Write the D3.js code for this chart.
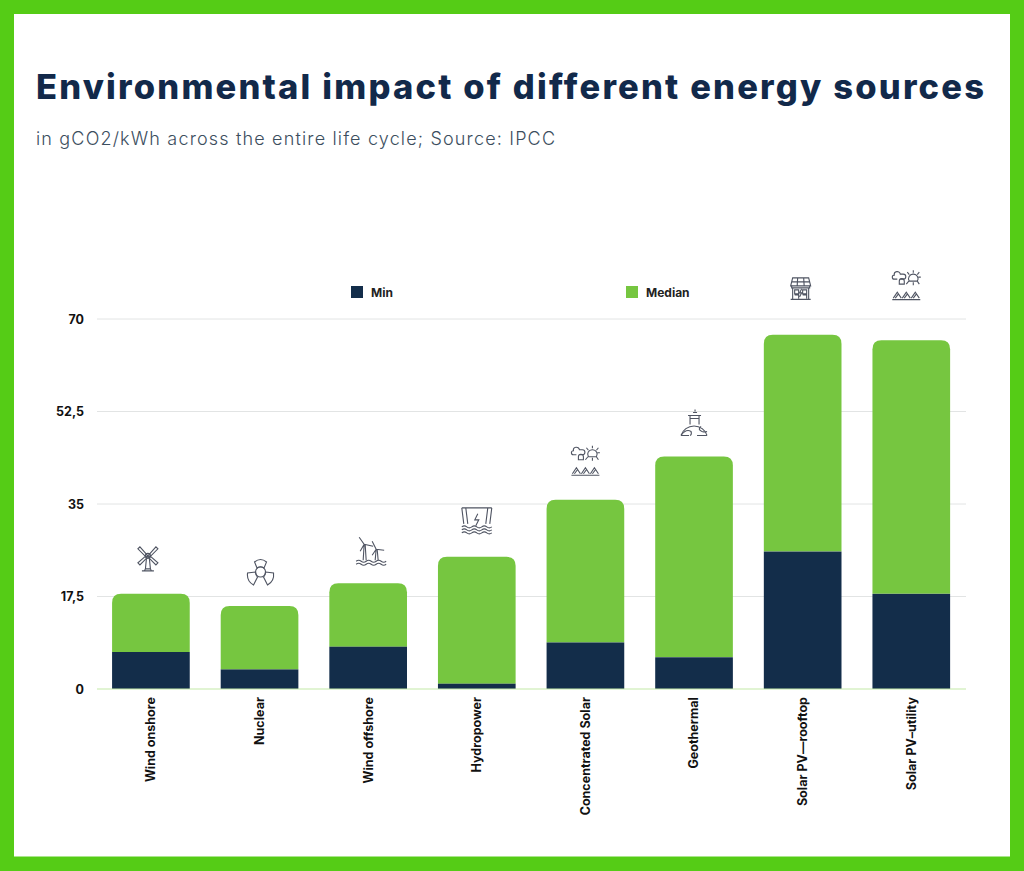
<!DOCTYPE html>
<html>
<head>
<meta charset="utf-8">
<script src="https://cdn.jsdelivr.net/npm/d3@7"></script>
<style>
  html, body { margin: 0; padding: 0; background: #fff; }
  text { font-family: Inter, Lato, sans-serif; }
  .axis path, .axis line { display: none; }
  .axis text { font-size: 12.5px; font-weight: 700; fill: #111; font-family: Inter, Lato, sans-serif; }
</style>
</head>
<body>
<div id="vis"></div>
<script>
const categories = ['Wind onshore', 'Nuclear', 'Wind offshore', 'Hydropower', 'Concentrated Solar', 'Geothermal', 'Solar PV—rooftop', 'Solar PV–utility'];
const minValues = [7, 3.7, 8, 1, 8.8, 6, 26, 18];
const medianValues = [11, 12, 12, 24, 27, 38, 41, 48];
const yTicks = [0, 17.5, 35, 52.5, 70];
const seriesNames = ['Min', 'Median'];
const iconNames = ['windmill', 'nuclear', 'offshore', 'hydro', 'solar', 'geo', 'rooftop', 'solar'];

const W = 1024, H = 871;
const navy = '#132d4a', green = '#76c640', border = '#55cc16';

const svg = d3.select('#vis').append('svg')
  .attr('width', W).attr('height', H)
  .style('display', 'block');

// green frame with the white card on top
svg.append('rect').attr('width', W).attr('height', H).attr('fill', border);
svg.append('rect').attr('x', 14).attr('y', 14).attr('width', 996).attr('height', 842.5).attr('fill', '#fff');

svg.append('text').attr('x', 36).attr('y', 99)
  .attr('font-size', 34.5).attr('font-weight', 800).attr('fill', '#12294a')
  .attr('textLength', 948).attr('lengthAdjust', 'spacing')
  .text('Environmental impact of different energy sources');
svg.append('text').attr('x', 36).attr('y', 145)
  .attr('font-size', 18).attr('font-weight', 300).attr('fill', '#3c4e5e')
  .attr('textLength', 519).attr('lengthAdjust', 'spacing')
  .text('in gCO2/kWh across the entire life cycle; Source: IPCC');

const x = d3.scaleBand().domain(categories).range([96.6, 965.6]).paddingInner(0.285).paddingOuter(0.1425);
const y = d3.scaleLinear().domain([0, 70]).range([689, 319]);

// gridlines
svg.append('g').selectAll('line')
  .data(yTicks.slice(1))
  .enter().append('line')
  .attr('x1', 97).attr('x2', 966)
  .attr('y1', d => y(d)).attr('y2', d => y(d))
  .attr('stroke', '#e2e4e4').attr('stroke-width', 1);

// y axis, decimal comma as in the source
svg.append('g').attr('class', 'axis')
  .attr('transform', 'translate(97,0)')
  .call(d3.axisLeft(y).tickValues(yTicks).tickSize(0).tickPadding(13)
    .tickFormat(d => String(d).replace('.', ',')));

// x axis with rotated labels
svg.append('g').attr('class', 'axis')
  .attr('transform', 'translate(0,689)')
  .call(d3.axisBottom(x).tickSize(0))
  .selectAll('text')
  .attr('text-anchor', 'end')
  .attr('transform', 'rotate(-90)')
  .attr('x', -8).attr('y', 0).attr('dy', '0.35em');

function topRounded(x0, x1, yTop, yBottom, r) {
  return `M${x0},${yBottom}V${yTop + r}Q${x0},${yTop} ${x0 + r},${yTop}H${x1 - r}Q${x1},${yTop} ${x1},${yTop + r}V${yBottom}Z`;
}

const bars = svg.append('g').selectAll('g')
  .data(categories)
  .enter().append('g');

bars.append('path')
  .attr('fill', green)
  .attr('d', (d, i) => topRounded(x(d), x(d) + x.bandwidth(), y(minValues[i] + medianValues[i]), y(minValues[i]), 9));
bars.append('rect')
  .attr('fill', navy)
  .attr('x', d => x(d)).attr('width', x.bandwidth())
  .attr('y', (d, i) => y(minValues[i]))
  .attr('height', (d, i) => y(0) - y(minValues[i]));

// baseline sits over the bars
svg.append('line')
  .attr('x1', 97).attr('x2', 966).attr('y1', y(0)).attr('y2', y(0))
  .attr('stroke', '#c4eaa8').attr('stroke-width', 1.2);

// legend
const legendX = [351, 626];
const legend = svg.append('g').selectAll('g')
  .data(seriesNames)
  .enter().append('g')
  .attr('transform', (d, i) => `translate(${legendX[i]},286)`);
legend.append('rect').attr('width', 12).attr('height', 12).attr('fill', (d, i) => i ? green : navy);
legend.append('text').attr('x', 20).attr('y', 10.5)
  .attr('font-size', 12).attr('font-weight', 700).attr('fill', '#222').text(d => d);

// small line icons, drawn in a box centred on 0,0
const waves = 'M-15,9q2.5,-2 5,0t5,0t5,0t5,0t5,0t5,0M-15,12q2.5,-2 5,0t5,0t5,0t5,0t5,0t5,0';
const iconPaths = {
  windmill: ['M0,-1L-8,-10L-10,-8L-1,1ZM0,-1L8,-10L10,-8L1,1ZM-1,1L-8,8L-10,6L-2,-1ZM1,1L8,8L10,6L2,-1Z',
    'M-2.5,-1a2.5,2.5 0 1,0 5,0a2.5,2.5 0 1,0 -5,0', 'M-1.5,2L-2.5,12M1.5,2L2.5,12M-2.5,12H2.5L3.5,14H-3.5ZM-6,14H6'],
  nuclear: ['M-5,0a5,5 0 1,0 10,0a5,5 0 1,0 -10,0',
    'M-3.5,-4L-6,-10Q0,-15 6,-10L3.5,-4Q0,-6.5 -3.5,-4Z',
    'M-5,0L-13,1Q-14,9 -7,13L-3,5Q-5,3 -5,0Z',
    'M5,0L13,1Q14,9 7,13L3,5Q5,3 5,0Z'],
  offshore: ['M-7,-8L-8,8M-6,-8L-5,8M-12,-15L-7,-8L2,-6M-7,-8L-11,-1',
    'M5,-3L4,8M6,-3L7,8M1,-11L5,-3L13,-2M5,-3L1,3', waves],
  hydro: ['M-15,-13L-13,3M15,-13L13,3M-15,-13H-11L-9,3M15,-13H11L9,3M-11,-13H11', 'M1,-7L-2,-1H2L-1,5',
    'M-15,6q2.5,-2 5,0t5,0t5,0t5,0t5,0t5,0M-15,9q2.5,-2 5,0t5,0t5,0t5,0t5,0t5,0M-15,12q2.5,-2 5,0t5,0t5,0t5,0t5,0t5,0'],
  solar: ['M-9,-7h-3a2,2 0 0,1 0,-4a3,3 0 0,1 6,-1h3a2,2 0 0,1 0,5h-3',
    'M-7,-2v-3a2,2 0 0,1 5,0v3z',
    'M3,-5a4.5,4.5 0 0,1 4,-7a4.5,4.5 0 0,1 4,7zM7,-16v2.5M1,-14l2,2.5M13,-14l-2,2.5M14.5,-9h-2.5M0,-2l2.5,-3M13,-2l-2,-3M7,-1v-3',
    'M-13,12L-9,6L-5,12M-4,12L0,6L4,12M5,12L9,6L13,12M-11,12L-8,8M-2,12L1,8M7,12L10,8M-14,13.5H14'],
  geo: ['M-13,12A13.5,13 0 0,1 13,12M-13,12H-5M3,12H13', 'M-4,1V-8H5V1M-6,-8H7M-4,-5H5M-1,-11h4M1,-14v2', 'M-13,12Q-8,5 -3,8Q-2,11 -4,12M7,3Q3,6 8,8Q11,9 13,8'],
  rooftop: ['M-8,-11H8L10,-3H-10ZM-3,-11L-3.5,-3M3,-11L3.5,-3M-9,-7H9', 'M-9,-3V-1H9V-3M-8,-1V10M8,-1V10M-10,10.5H10', 'M-6,1H-2V5H-6ZM2,1H6V5H2ZM-6,6H-2V10M2,6H6V10M1,0L-1,4H1L-1,8'],
};
// nudges, each icon sits a little off its bar centre
const iconDx = [-3, 1, 3, 0, 0, 0, -2, -5];
const iconGap = [37, 34, 31, 36, 38, 33, 46, 54];

svg.append('g').selectAll('g')
  .data(categories)
  .enter().append('g')
  .attr('transform', (d, i) => `translate(${x(d) + x.bandwidth() / 2 + iconDx[i]},${y(minValues[i] + medianValues[i]) - iconGap[i]})`)
  .each(function (d, i) {
    d3.select(this).selectAll('path')
      .data(iconPaths[iconNames[i]])
      .enter().append('path')
      .attr('d', p => p)
      .attr('fill', 'none')
      .attr('stroke', '#4f5462')
      .attr('stroke-width', 1.1);
  });
</script>
</body>
</html>
